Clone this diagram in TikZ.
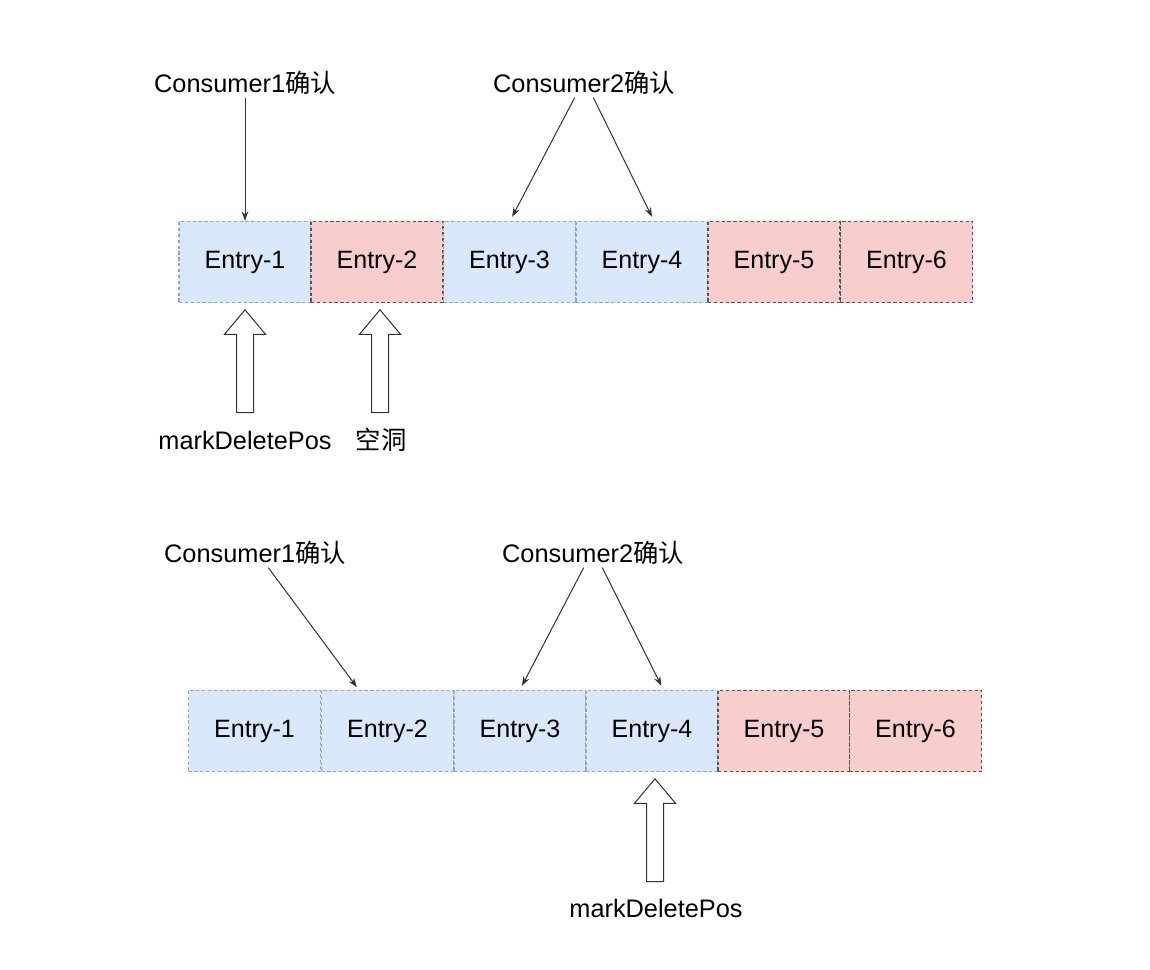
\documentclass[tikz,border=0pt]{standalone}
\usepackage{fontspec}
\setmainfont{Liberation Sans}
\newfontfamily\cjk{Noto Sans CJK SC}
\usetikzlibrary{shapes,arrows.meta,positioning,calc}

\definecolor{entryblue}{HTML}{DAE8FC}
\definecolor{entryblueline}{HTML}{8EA6CC}
\definecolor{entryred}{HTML}{F8CECC}
\definecolor{entryredline}{HTML}{555555}
\definecolor{arrowgray}{HTML}{333333}

\tikzset{
    entry/.style={draw,rectangle,dash pattern=on 2.4pt off 2pt,line width=0.8pt,
        minimum width=99pt,minimum height=61pt,inner sep=0pt,
        font=\fontsize{18.8pt}{22pt}\selectfont},
    acked/.style={entry,fill=entryblue,draw=entryblueline},
    pending/.style={entry,fill=entryred,draw=entryredline},
    caption/.style={inner sep=2pt,font=\fontsize{19pt}{22pt}\selectfont},
    ack/.style={->,>={Stealth[length=7pt,width=5pt]},draw=arrowgray,line width=0.75pt},
    hollow/.style={draw=arrowgray,fill=white,line width=0.75pt,single arrow,
        shape border rotate=90,minimum height=77pt,inner sep=6pt,
        single arrow head extend=9pt,single arrow tip angle=80}
}

\begin{document}
\begin{tikzpicture}[x=0.75pt,y=-0.75pt]
    \useasboundingbox (0,0) rectangle (1150,970);

    % first state
    \node[acked] (t1) at (245,262) {Entry-1};
    \node[pending] (t2) at (377,262) {Entry-2};
    \node[acked] (t3) at (509.5,262) {Entry-3};
    \node[acked] (t4) at (642,262) {Entry-4};
    \node[pending] (t5) at (774,262) {Entry-5};
    \node[pending] (t6) at (906.5,262) {Entry-6};

    \node[caption] (tc1) at (245,83) {Consumer1{\cjk 确认}};
    \node[caption] (tc2) at (584,83) {Consumer2{\cjk 确认}};

    \draw[ack] (tc1.south) -- (t1.north);
    \draw[ack] ([xshift=-7pt]tc2.south) -- ([xshift=2pt,yshift=3pt]t3.north);
    \draw[ack] ([xshift=7pt]tc2.south) -- ([xshift=7.5pt,yshift=3pt]t4.north);

    \node[hollow,anchor=tail] (tmark) at (245,413) {};
    \node[hollow,anchor=tail] (thole) at (380,413) {};
    \node[caption] (tmarklabel) at (245,440) {markDeletePos};
    \node[caption] (tholelabel) at (381,440) {\cjk 空洞};

    % second state
    \node[acked] (b1) at (254.5,731) {Entry-1};
    \node[acked] (b2) at (387.5,731) {Entry-2};
    \node[acked] (b3) at (520,731) {Entry-3};
    \node[acked] (b4) at (652,731) {Entry-4};
    \node[pending] (b5) at (784,731) {Entry-5};
    \node[pending] (b6) at (915.5,731) {Entry-6};

    \node[caption] (bc1) at (255,553) {Consumer1{\cjk 确认}};
    \node[caption] (bc2) at (593,553) {Consumer2{\cjk 确认}};

    \draw[ack] ([xshift=10pt]bc1.south) -- ([xshift=-23pt,yshift=2pt]b2.north);
    \draw[ack] ([xshift=-7pt]bc2.south) -- ([xshift=1.5pt,yshift=3pt]b3.north);
    \draw[ack] ([xshift=7pt]bc2.south) -- ([xshift=7pt,yshift=3pt]b4.north);

    \node[hollow,anchor=tail] (bmark) at (655,882) {};
    \node[caption] (bmarklabel) at (656,908) {markDeletePos};
\end{tikzpicture}
\end{document}
